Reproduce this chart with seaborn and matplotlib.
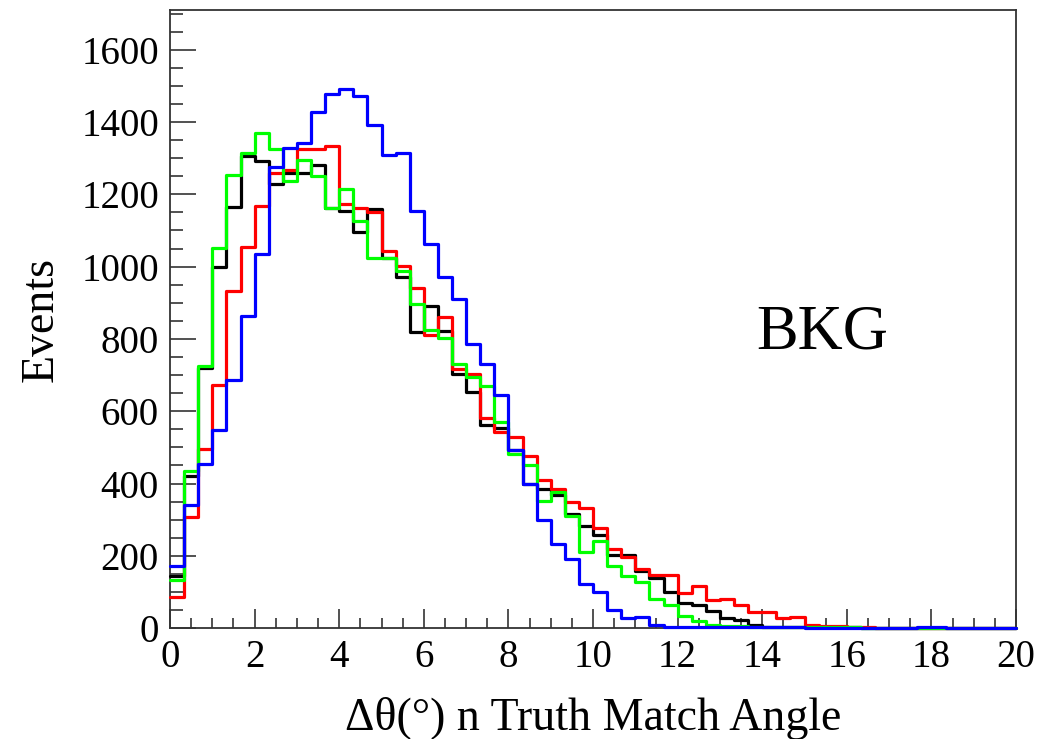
import numpy as np
import pandas as pd
import matplotlib
matplotlib.use("Agg")
import matplotlib.pyplot as plt
from matplotlib.ticker import MultipleLocator
import seaborn as sns

# 60 bins of 1/3 degree between 0 and 20 degrees
n_bins = 60
angle_range = (0, 20)
bin_edges = np.linspace(angle_range[0], angle_range[1], n_bins + 1)
bin_centers = 0.5 * (bin_edges[:-1] + bin_edges[1:])

counts_black = [145, 421, 720, 998, 1166, 1305, 1292, 1228, 1260, 1258,
                1282, 1163, 1153, 1097, 1160, 1025, 972, 818, 890, 822,
                703, 653, 563, 553, 493, 400, 386, 368, 316, 282,
                258, 203, 203, 158, 140, 100, 70, 64, 48, 29,
                22, 8, 4, 3, 3, 3, 2, 3, 3, 1,
                1, 0, 1, 0, 0, 0, 1, 0, 0, 0]

counts_red = [87, 307, 496, 672, 934, 1054, 1168, 1258, 1266, 1325,
              1325, 1333, 1173, 1161, 1151, 1043, 1001, 942, 810, 860,
              718, 702, 582, 543, 528, 476, 410, 386, 350, 333,
              276, 218, 198, 164, 147, 146, 98, 116, 77, 82,
              65, 44, 44, 27, 31, 10, 6, 6, 3, 2,
              1, 1, 0, 1, 0, 0, 0, 0, 0, 0]

counts_green = [134, 434, 726, 1052, 1253, 1315, 1371, 1325, 1236, 1295,
                1250, 1161, 1216, 1127, 1023, 1023, 987, 898, 825, 803,
                730, 694, 670, 570, 482, 450, 352, 376, 310, 210,
                240, 173, 144, 128, 82, 63, 33, 19, 10, 7,
                5, 3, 2, 2, 2, 2, 3, 4, 2, 1,
                1, 1, 0, 1, 0, 0, 0, 0, 0, 0]

counts_blue = [172, 342, 454, 548, 686, 864, 1036, 1277, 1327, 1342,
               1428, 1478, 1491, 1471, 1392, 1310, 1315, 1153, 1062, 970,
               911, 786, 730, 644, 493, 399, 300, 234, 190, 122,
               99, 50, 28, 30, 9, 4, 3, 3, 2, 2,
               2, 2, 4, 4, 2, 1, 1, 1, 1, 1,
               1, 1, 1, 3, 3, 1, 1, 1, 1, 1]

series = [("black", counts_black, "#000000"),
          ("red", counts_red, "#ff0000"),
          ("green", counts_green, "#00ff00"),
          ("blue", counts_blue, "#0000ff")]

sns.set_style("white")
plt.rcParams["font.family"] = ["Liberation Serif", "DejaVu Serif"]
plt.rcParams["text.color"] = "black"
plt.rcParams["axes.labelcolor"] = "black"
plt.rcParams["xtick.labelcolor"] = "black"
plt.rcParams["ytick.labelcolor"] = "black"

fig = plt.figure(figsize=(10.52, 7.39), dpi=100)
ax = fig.add_axes([0.1616, 0.150, 0.8042, 0.8365])

for name, counts, color in series:
    df = pd.DataFrame({"angle": bin_centers, "events": counts})
    sns.histplot(data=df, x="angle", weights="events", bins=n_bins,
                 binrange=angle_range, element="step", fill=False,
                 color=color, linewidth=2.3, ax=ax, zorder=3, clip_on=False)

ax.set_xlim(*angle_range)
ax.set_ylim(0, 1710)

ax.xaxis.set_major_locator(MultipleLocator(2))
ax.xaxis.set_minor_locator(MultipleLocator(0.5))
ax.yaxis.set_major_locator(MultipleLocator(200))
ax.yaxis.set_minor_locator(MultipleLocator(50))

ax.tick_params(axis="x", which="major", direction="in", length=14, width=1.2,
               color="#333333", labelcolor="black", labelsize=28, pad=8,
               top=False, bottom=True)
ax.tick_params(axis="x", which="minor", direction="in", length=7, width=1.2,
               color="#333333", top=False, bottom=True)
ax.tick_params(axis="y", which="major", direction="in", length=19, width=1.2,
               color="#333333", labelcolor="black", labelsize=28, pad=8,
               right=False, left=True)
ax.tick_params(axis="y", which="minor", direction="in", length=9.5, width=1.2,
               color="#333333", right=False, left=True)

for spine in ax.spines.values():
    spine.set_visible(True)
    spine.set_color("#333333")
    spine.set_linewidth(1.3)

ax.set_xlabel("Δθ(°) n Truth Match Angle", fontsize=33, labelpad=15,
              color="black")
ax.set_ylabel("Events", fontsize=33, labelpad=13, color="black")

ax.text(0.771, 0.477, "BKG", transform=ax.transAxes, fontsize=45,
        ha="center", va="center", color="black")

fig.savefig("out.png", dpi=100)
